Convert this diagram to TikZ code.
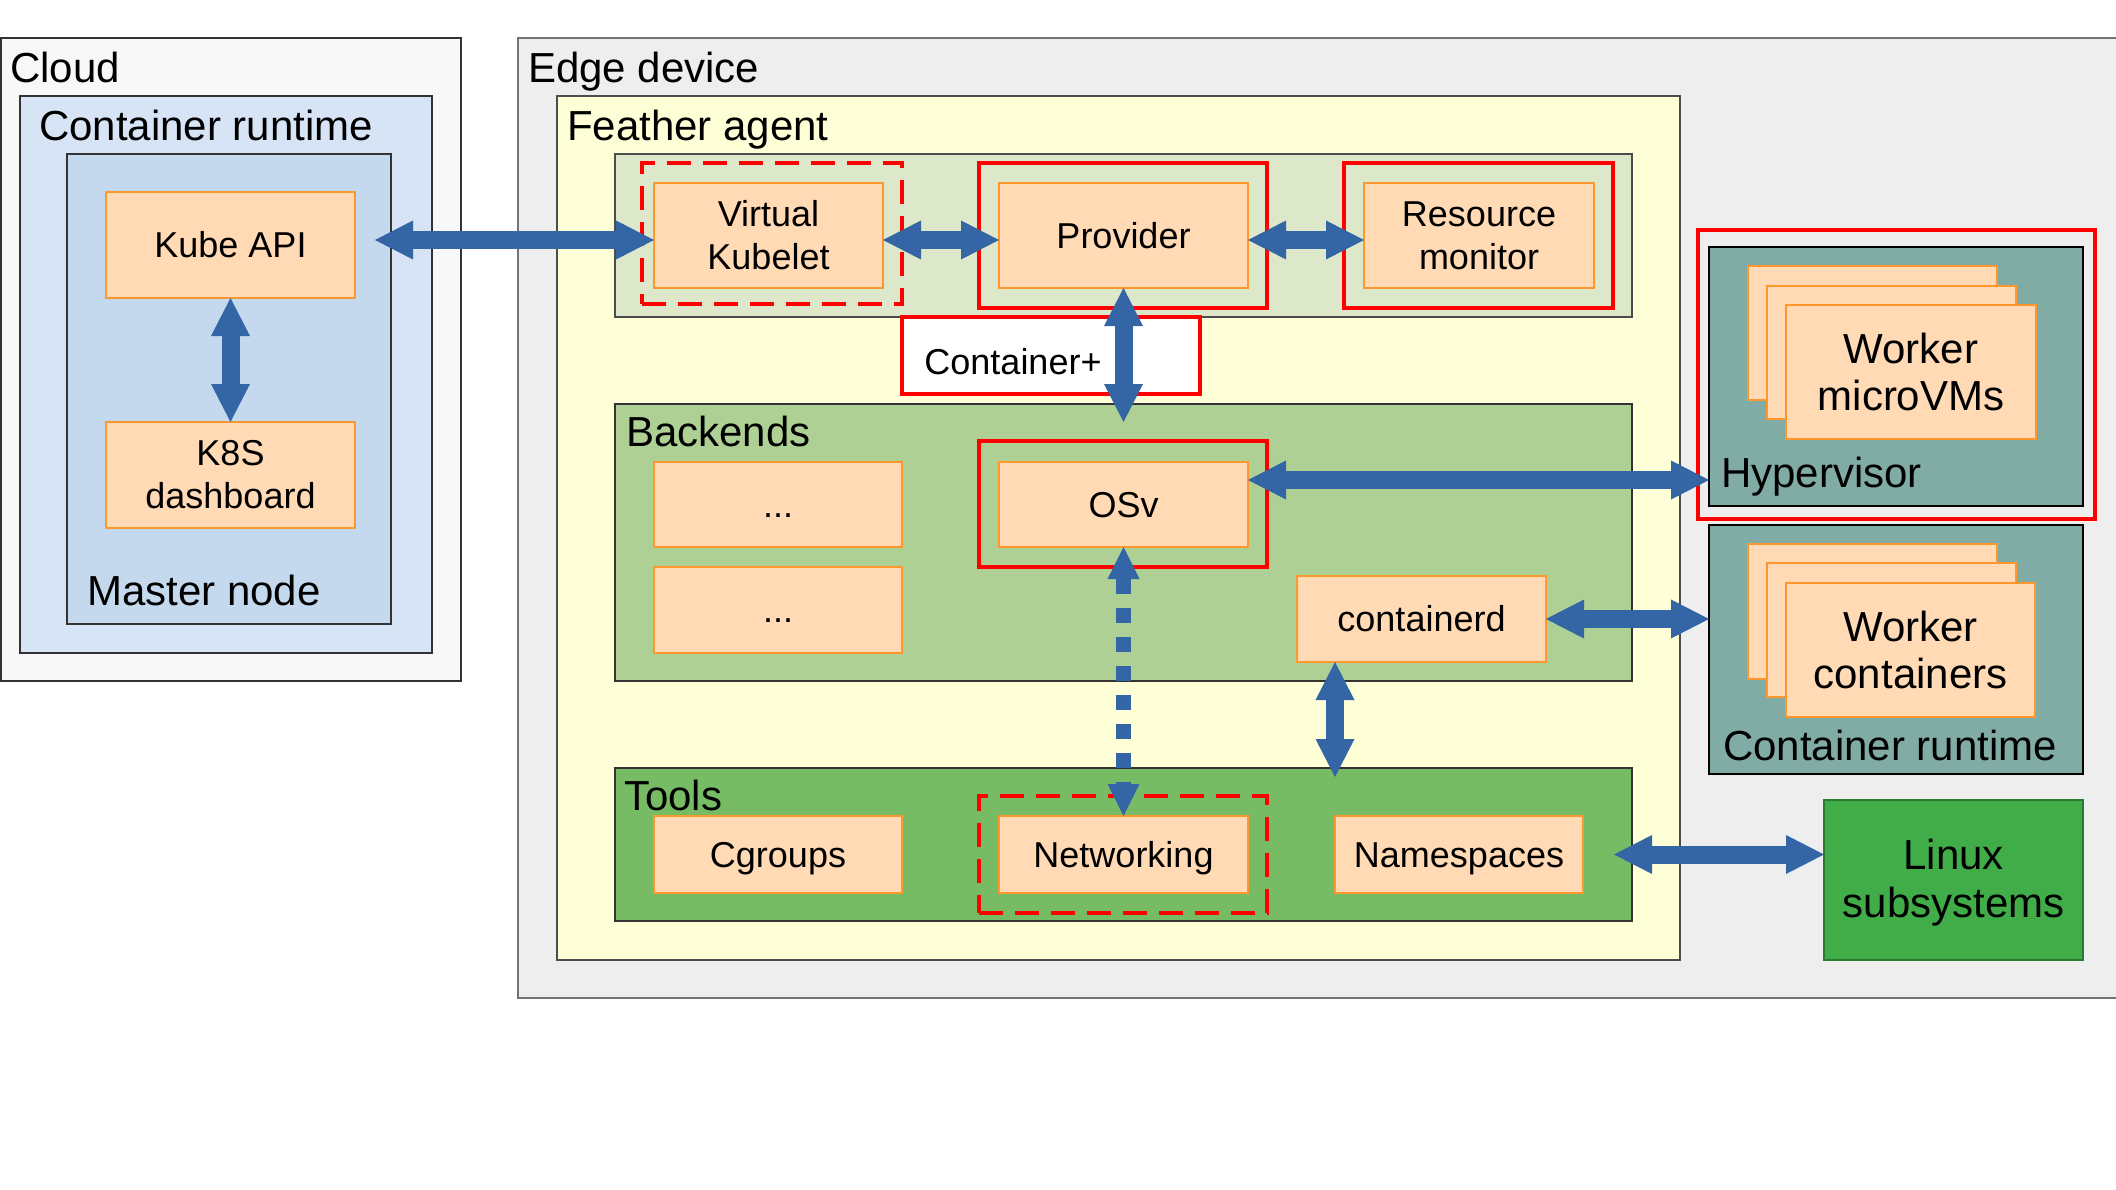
\documentclass[tikz,border=0pt]{standalone}
\usepackage{fontspec}
\setmainfont{Liberation Sans}
\usetikzlibrary{arrows.meta}
\definecolor{cloudfill}{HTML}{F8F8F8}
\definecolor{crlfill}{HTML}{D6E4F5}
\definecolor{mastfill}{HTML}{C5D9EE}
\definecolor{edgefill}{HTML}{EEEEEE}
\definecolor{featherfill}{HTML}{FFFFD7}
\definecolor{upfill}{HTML}{DDE8CB}
\definecolor{bkfill}{HTML}{AFD095}
\definecolor{toolfill}{HTML}{77BC65}
\definecolor{tealfill}{HTML}{81ACA6}
\definecolor{linuxfill}{HTML}{40AD48}
\definecolor{linuxbd}{HTML}{2A7A30}
\definecolor{orfill}{HTML}{FFDAB4}
\definecolor{orbd}{HTML}{FF972F}
\definecolor{arrblue}{HTML}{3465A4}
\definecolor{redc}{HTML}{FF0000}
\newcommand\mkbox[7]{\node[#2, minimum width={#5-#3}, minimum height={#6-#4}] (#1) at ({(#3+#5)/2},{(#4+#6)/2}) {#7};}
\tikzset{
  bigtip/.tip={Triangle[length=38pt,width=39pt,line width=0pt]},
  midtip/.tip={Triangle[length=32pt,width=32pt,line width=0pt]},
  box/.style={draw=orbd, fill=orfill, line width=1.5pt, inner sep=0pt, outer sep=0pt, align=center, font=\fontsize{36}{43}\selectfont},
  onebox/.style={box, text height=32.6pt, text depth=7.6pt},
  bigbox/.style={box, font=\fontsize{42}{47}\selectfont},
  grpbox/.style={draw=black!80, line width=1.5pt, inner sep=0pt, outer sep=0pt},
  redfrm/.style={draw=redc, line width=4pt, inner sep=0pt, outer sep=0pt},
  reddash/.style={redfrm, dash pattern=on 24pt off 12pt},
  lbl/.style={anchor=base west, inner sep=0pt, font=\fontsize{42}{47}\selectfont},
  dbl/.style={draw=arrblue, line width=18pt, arrows={bigtip-bigtip}},
  dbldash/.style={draw=arrblue, line width=15pt, dash pattern=on 15pt off 14pt, arrows={midtip-midtip}}
}
\begin{document}
\begin{tikzpicture}[x=1pt,y=-1pt]
\useasboundingbox (0,0) rectangle (2116,1190);
\clip (0,0) rectangle (2116,1190);
\fill[white] (0,0) rectangle (2116,1190);
% Cloud side
\mkbox{cloud}{grpbox, fill=cloudfill}{1}{38}{461}{681}{}
\mkbox{crl}{grpbox, fill=crlfill}{20}{96}{432}{653}{}
\mkbox{master}{grpbox, fill=mastfill}{67}{154}{391}{624}{}
\mkbox{kube}{onebox}{106}{192}{355}{298}{Kube API}
\mkbox{k8s}{box}{106}{422}{355}{528}{K8S\\dashboard}
\node[lbl] (cloudlbl) at (10,83) {Cloud};
\node[lbl] (crllbl) at (39,141) {Container runtime};
\node[lbl] (masterlbl) at (87,605) {Master node};
% Edge device
\mkbox{edge}{grpbox, fill=edgefill, draw=black!55}{518}{38}{2150}{998}{}
\mkbox{feather}{grpbox, fill=featherfill, draw=black!70}{557}{96}{1680}{960}{}
\mkbox{upper}{grpbox, fill=upfill, draw=black!70}{615}{154}{1632}{317}{}
\mkbox{backends}{grpbox, fill=bkfill}{615}{404}{1632}{681}{}
\mkbox{tools}{grpbox, fill=toolfill}{615}{768}{1632}{921}{}
\node[lbl] (edgelbl) at (528,83) {Edge device};
\node[lbl] (featherlbl) at (567,141) {Feather agent};
\node[lbl] (backendslbl) at (626,446) {Backends};
\node[lbl] (toolslbl) at (624,810) {Tools};
% red frames
\mkbox{cplus}{redfrm, fill=white}{902}{317}{1200}{394}{}
\node[anchor=base, inner sep=0pt, font=\fontsize{36}{43}\selectfont] (cplustxt) at (1013,374) {Container+};
\mkbox{vkfrm}{reddash}{642}{163}{902}{304}{}
\mkbox{provfrm}{redfrm}{979}{163}{1267}{308}{}
\mkbox{resfrm}{redfrm}{1344}{163}{1613}{308}{}
\mkbox{osvfrm}{redfrm}{979}{441}{1267}{567}{}
\mkbox{netfrm}{reddash}{979}{796}{1267}{913}{}
% agent boxes
\mkbox{vk}{box}{654}{183}{883}{288}{Virtual\\Kubelet}
\mkbox{prov}{onebox}{999}{183}{1248}{288}{Provider}
\mkbox{res}{box}{1364}{183}{1594}{288}{Resource\\monitor}
\mkbox{dotsa}{onebox}{654}{462}{902}{547}{...}
\mkbox{dotsb}{onebox}{654}{567}{902}{653}{...}
\mkbox{osv}{onebox}{999}{462}{1248}{547}{OSv}
\mkbox{cd}{onebox}{1297}{576}{1546}{662}{containerd}
\mkbox{cg}{onebox}{654}{816}{902}{893}{Cgroups}
\mkbox{net}{onebox}{999}{816}{1248}{893}{Networking}
\mkbox{ns}{onebox}{1335}{816}{1583}{893}{Namespaces}
% hypervisor
\mkbox{hypfrm}{redfrm}{1698}{230}{2095}{519}{}
\mkbox{hyp}{grpbox, fill=tealfill, draw=black}{1709}{247}{2083}{506}{}
\mkbox{wma}{box}{1748}{266}{1997}{400}{}
\mkbox{wmb}{box}{1767}{286}{2016}{419}{}
\mkbox{wmc}{bigbox}{1786}{305}{2036}{439}{Worker\\microVMs}
\node[lbl] (hyplbl) at (1721,487) {Hypervisor};
% container runtime right
\mkbox{crr}{grpbox, fill=tealfill, draw=black}{1709}{525}{2083}{774}{}
\mkbox{wca}{box}{1748}{544}{1997}{679}{}
\mkbox{wcb}{box}{1767}{563}{2016}{697}{}
\mkbox{wcc}{bigbox}{1786}{583}{2035}{717}{Worker\\containers}
\node[lbl] (crrlbl) at (1723,760) {Container runtime};
% linux
\mkbox{linux}{bigbox, fill=linuxfill, draw=linuxbd}{1824}{800}{2083}{960}{}
\node[align=center, inner sep=0pt, font=\fontsize{42}{48}\selectfont] (linuxtxt) at ([yshift=-3pt]linux.center) {Linux\\subsystems};
% helper coordinates
\coordinate (rowA) at (0,240);
\coordinate (rowB) at (0,480);
\coordinate (colX) at (1335,0);
% arrows
\draw[dbl] ([xshift=20pt]kube.east |- rowA) -- (vk.west |- rowA);
\draw[dbl] (kube.south) -- (k8s.north);
\draw[dbl] (vk.east |- rowA) -- (prov.west |- rowA);
\draw[dbl] (prov.east |- rowA) -- (res.west |- rowA);
\draw[dbl] (prov.south) -- ([yshift=19pt]osvfrm.north -| prov.south);
\draw[dbl] (osv.east |- rowB) -- (hyp.west |- rowB);
\draw[dbl] (cd.east) -- (crr.west |- cd.east);
\draw[dbldash] (osv.south) -- (net.north);
\draw[dbl] (cd.south -| colX) -- ([yshift=-9pt]tools.north -| colX);
\draw[dbl] ([xshift=31pt]ns.east) -- (linux.west |- ns.east);
\end{tikzpicture}
\end{document}
